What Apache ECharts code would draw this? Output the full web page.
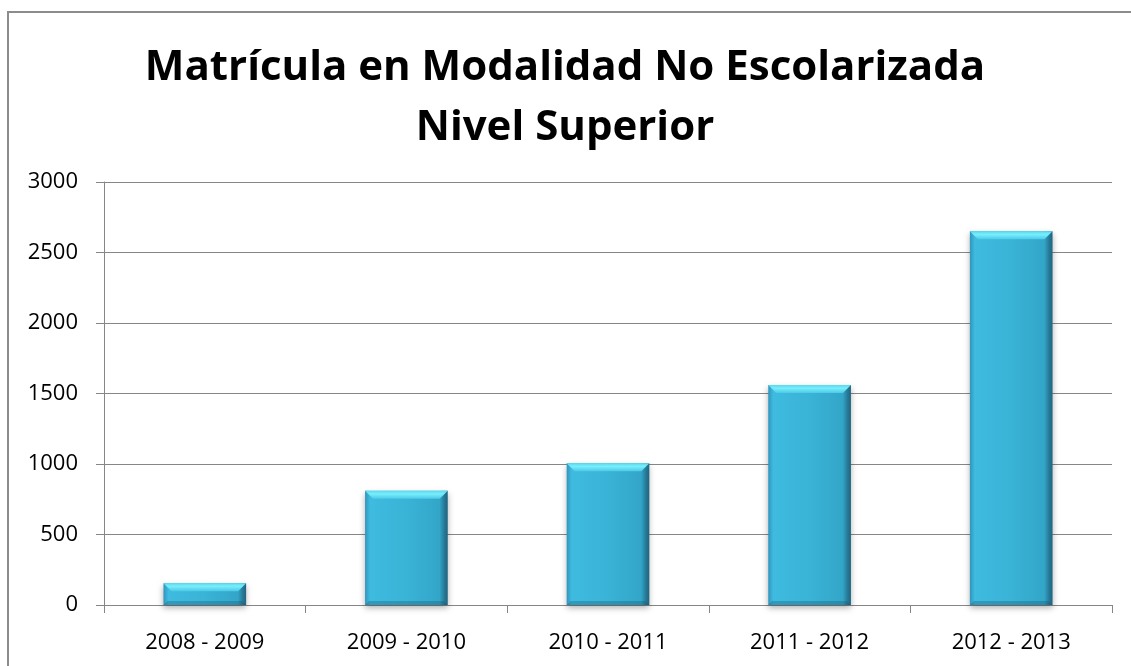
<!DOCTYPE html>
<html>
<head>
<meta charset="utf-8">
<script src="https://cdn.jsdelivr.net/npm/echarts@6/dist/echarts.min.js"></script>
<style>html,body{margin:0;padding:0;background:#fff;}#c{width:1131px;height:666px;}</style>
</head>
<body>
<div id="c"></div>
<script>
const titleLines = ['Matrícula en Modalidad No Escolarizada', 'Nivel Superior'];
const categories = ['2008 - 2009', '2009 - 2010', '2010 - 2011', '2011 - 2012', '2012 - 2013'];
const values = [155, 810, 1005, 1560, 2650];
const yTicks = [0, 500, 1000, 1500, 2000, 2500, 3000];

const chart = echarts.init(document.getElementById('c'), null, {renderer: 'canvas'});
const FONT = 'Open Sans';

function renderBar(params, api) {
  const idx = api.value(0);
  const val = api.value(1);
  const top = api.coord([idx, val]);
  const bot = api.coord([idx, 0]);
  const w = api.size([1, 0])[0] * 0.41;
  const x = top[0] - w / 2;
  const y = top[1];
  const h = bot[1] - top[1];
  const b = Math.min(8, h / 2);
  return {
    type: 'group',
    children: [
      {type: 'rect', shape: {x: x, y: y, width: w, height: h},
        style: {fill: {type: 'linear', x: 0, y: 0, x2: 1, y2: 0, colorStops: [
          {offset: 0, color: '#3194bd'}, {offset: 0.06, color: '#3fbbe0'},
          {offset: 0.5, color: '#39b3d6'}, {offset: 0.9, color: '#33a6c8'},
          {offset: 0.96, color: '#267896'}, {offset: 1, color: '#1f6480'}]},
          shadowBlur: 6, shadowColor: 'rgba(0,0,0,0.3)', shadowOffsetY: 3}},
      {type: 'polygon', shape: {points: [[x, y], [x + w, y], [x + w - b, y + b], [x + b, y + b]]},
        style: {fill: {type: 'linear', x: 0, y: 0, x2: 0, y2: 1, colorStops: [
          {offset: 0, color: '#5ad9ef'}, {offset: 0.4, color: '#78eefb'}, {offset: 1, color: '#4cc9e8'}]}}},
      {type: 'polygon', shape: {points: [[x, y + h], [x + w, y + h], [x + w - b * 0.5, y + h - b * 0.5], [x + b * 0.5, y + h - b * 0.5]]},
        style: {fill: 'rgba(20,80,105,0.3)'}}
    ]
  };
}

chart.setOption({
  animation: false,
  backgroundColor: '#fff',
  graphic: [
    {type: 'rect', shape: {x: 8, y: 12, width: 1300, height: 900},
      style: {fill: 'none', stroke: '#8c8c8c', lineWidth: 2}, z: 100},
    {type: 'text', x: 565, y: 68, style: {text: titleLines[0], fontFamily: FONT, fontWeight: 'bold', fontSize: 42,
      fill: '#000', align: 'center', verticalAlign: 'middle'}},
    {type: 'text', x: 565, y: 128, style: {text: titleLines[1], fontFamily: FONT, fontWeight: 'bold', fontSize: 42,
      fill: '#000', align: 'center', verticalAlign: 'middle'}}
  ],
  grid: {left: 104, right: 19, top: 182, bottom: 61, containLabel: false},
  xAxis: {
    type: 'category', data: categories,
    axisLine: {lineStyle: {color: '#868686', width: 1}},
    axisTick: {show: true, length: 8, lineStyle: {color: '#868686'}},
    axisLabel: {fontFamily: FONT, fontSize: 22, color: '#000', margin: 27}
  },
  yAxis: {
    type: 'value', min: yTicks[0], max: yTicks[yTicks.length - 1], interval: 500,
    axisLine: {show: true, lineStyle: {color: '#868686', width: 1}},
    axisTick: {show: true, length: 8, lineStyle: {color: '#868686'}},
    axisLabel: {fontFamily: FONT, fontSize: 22, color: '#000', margin: 26, formatter: v => String(v)},
    splitLine: {show: true, lineStyle: {color: '#868686', width: 1}}
  },
  series: [{
    type: 'custom',
    renderItem: renderBar,
    encode: {x: 0, y: 1},
    data: values.map((v, i) => [i, v])
  }]
});
</script>
</body>
</html>
